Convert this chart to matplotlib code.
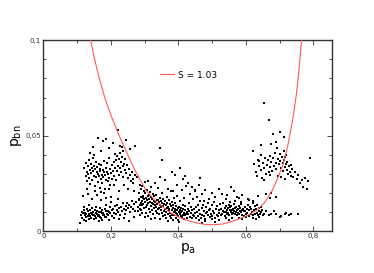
#!/usr/bin/env python3
# Scatter of p_bn against p_a with the S = 1.03 boundary curve.
import matplotlib as mpl
mpl.use('Agg')
import matplotlib.pyplot as plt
from matplotlib.ticker import FixedLocator, FixedFormatter

# upper-left cloud
cloud_a = [
    (0.121, 0.0334), (0.125, 0.0287), (0.127, 0.0356), (0.129, 0.0312), (0.130, 0.0263), (0.132, 0.0341),
    (0.133, 0.0298), (0.135, 0.0372), (0.136, 0.0279), (0.137, 0.0321), (0.139, 0.0248), (0.141, 0.0353),
    (0.142, 0.0306), (0.144, 0.0331), (0.145, 0.0268), (0.147, 0.0384), (0.148, 0.0315), (0.149, 0.0289),
    (0.151, 0.0344), (0.152, 0.0236), (0.154, 0.0327), (0.155, 0.0362), (0.157, 0.0283), (0.158, 0.0309),
    (0.160, 0.0338), (0.161, 0.0257), (0.162, 0.0302), (0.164, 0.0351), (0.165, 0.0291), (0.167, 0.0324),
    (0.168, 0.0228), (0.169, 0.0317), (0.171, 0.0274), (0.172, 0.0346), (0.174, 0.0296), (0.175, 0.0253),
    (0.177, 0.0323), (0.178, 0.0285), (0.179, 0.0367), (0.181, 0.0311), (0.183, 0.0219), (0.184, 0.0293),
    (0.186, 0.0334), (0.187, 0.0271), (0.189, 0.0313), (0.190, 0.0358), (0.192, 0.0262), (0.193, 0.0301),
    (0.195, 0.0386), (0.196, 0.0281), (0.198, 0.0326), (0.199, 0.0243), (0.201, 0.0307), (0.203, 0.0349),
    (0.204, 0.0276), (0.206, 0.0318), (0.208, 0.0364), (0.209, 0.0291), (0.211, 0.0405), (0.213, 0.0332),
    (0.214, 0.0268), (0.216, 0.0371), (0.218, 0.0315), (0.219, 0.0392), (0.221, 0.0344), (0.223, 0.0297),
    (0.224, 0.0378), (0.226, 0.0329), (0.228, 0.0412), (0.229, 0.0361), (0.231, 0.0308), (0.233, 0.0387),
    (0.235, 0.0342), (0.237, 0.0286), (0.239, 0.0354), (0.241, 0.0319), (0.243, 0.0376), (0.246, 0.0305),
    (0.248, 0.0347), (0.251, 0.0278), (0.253, 0.0328), (0.256, 0.0296), (0.259, 0.0261), (0.263, 0.0309),
    (0.267, 0.0272), (0.271, 0.0293),
    (0.147, 0.0443), (0.163, 0.0488), (0.171, 0.0418), (0.178, 0.0472), (0.186, 0.0481), (0.196, 0.0437),
    (0.205, 0.0462), (0.222, 0.0531), (0.228, 0.0447), (0.236, 0.0423), (0.245, 0.0478), (0.258, 0.0432),
    (0.273, 0.0448), (0.232, 0.0441), (0.150, 0.0402), (0.139, 0.0409),
    (0.128, 0.0221), (0.133, 0.0197), (0.152, 0.0213), (0.160, 0.0189), (0.172, 0.0208), (0.181, 0.0202),
    (0.195, 0.0223), (0.210, 0.0241), (0.118, 0.0183), (0.145, 0.0168), (0.170, 0.0162), (0.185, 0.0174),
    (0.200, 0.0181), (0.223, 0.0213), (0.238, 0.0244), (0.250, 0.0219), (0.265, 0.0253), (0.270, 0.0211),
    (0.278, 0.0284), (0.285, 0.0242),
]

# lower-left band
cloud_b = [
    (0.108, 0.0041), (0.112, 0.0083), (0.114, 0.0102), (0.116, 0.0069), (0.118, 0.0094), (0.120, 0.0113),
    (0.121, 0.0061), (0.123, 0.0087), (0.124, 0.0098), (0.126, 0.0074), (0.127, 0.0091), (0.129, 0.0118),
    (0.131, 0.0079), (0.132, 0.0105), (0.134, 0.0064), (0.135, 0.0089), (0.137, 0.0109), (0.138, 0.0082),
    (0.140, 0.0097), (0.141, 0.0071), (0.143, 0.0093), (0.145, 0.0121), (0.146, 0.0084), (0.148, 0.0101),
    (0.149, 0.0067), (0.151, 0.0088), (0.153, 0.0114), (0.154, 0.0078), (0.156, 0.0096), (0.157, 0.0072),
    (0.159, 0.0092), (0.160, 0.0107), (0.162, 0.0081), (0.164, 0.0099), (0.165, 0.0086), (0.167, 0.0124),
    (0.168, 0.0077), (0.170, 0.0103), (0.172, 0.0068), (0.173, 0.0095), (0.175, 0.0111), (0.177, 0.0083),
    (0.178, 0.0098), (0.180, 0.0087), (0.182, 0.0119), (0.184, 0.0076), (0.185, 0.0104), (0.187, 0.0073),
    (0.189, 0.0092), (0.191, 0.0108), (0.193, 0.0085), (0.195, 0.0101), (0.197, 0.0127), (0.199, 0.0094),
    (0.202, 0.0112), (0.204, 0.0079), (0.207, 0.0118), (0.209, 0.0097), (0.212, 0.0131), (0.214, 0.0089),
    (0.217, 0.0109), (0.219, 0.0138), (0.222, 0.0102), (0.225, 0.0123), (0.227, 0.0088), (0.230, 0.0129),
    (0.233, 0.0107), (0.235, 0.0146), (0.238, 0.0118), (0.241, 0.0093), (0.244, 0.0134), (0.246, 0.0112),
    (0.249, 0.0148), (0.252, 0.0121), (0.255, 0.0137), (0.258, 0.0099), (0.261, 0.0128), (0.264, 0.0157),
    (0.267, 0.0117), (0.270, 0.0141), (0.273, 0.0108), (0.276, 0.0152), (0.279, 0.0126), (0.282, 0.0168),
    (0.285, 0.0119), (0.288, 0.0147), (0.291, 0.0138), (0.294, 0.0176),
    (0.120, 0.0128), (0.135, 0.0136), (0.155, 0.0129), (0.175, 0.0061), (0.195, 0.0058), (0.210, 0.0072),
    (0.225, 0.0063), (0.240, 0.0069), (0.255, 0.0053), (0.270, 0.0074), (0.125, 0.0054), (0.165, 0.0056),
    (0.185, 0.0139), (0.200, 0.0152), (0.220, 0.0168),
]

# dense middle band, p_a 0.28 - 0.45
cloud_mid = [
    (0.280, 0.0104), (0.282, 0.0163), (0.283, 0.0198), (0.285, 0.0086), (0.286, 0.0137), (0.288, 0.0179),
    (0.289, 0.0224), (0.290, 0.0113), (0.291, 0.0158), (0.292, 0.0236), (0.293, 0.0094), (0.295, 0.0142),
    (0.296, 0.0187), (0.297, 0.0213), (0.298, 0.0121), (0.299, 0.0169), (0.300, 0.0073), (0.301, 0.0151),
    (0.302, 0.0203), (0.303, 0.0128), (0.304, 0.0174), (0.305, 0.0097), (0.306, 0.0162), (0.307, 0.0218),
    (0.308, 0.0139), (0.309, 0.0183), (0.310, 0.0082), (0.311, 0.0147), (0.312, 0.0192), (0.313, 0.0119),
    (0.314, 0.0171), (0.315, 0.0207), (0.316, 0.0103), (0.317, 0.0156), (0.318, 0.0134), (0.319, 0.0178),
    (0.320, 0.0064), (0.321, 0.0149), (0.322, 0.0112), (0.323, 0.0168), (0.324, 0.0141), (0.325, 0.0196),
    (0.326, 0.0091), (0.327, 0.0159), (0.328, 0.0123), (0.329, 0.0184), (0.330, 0.0137), (0.331, 0.0071),
    (0.332, 0.0153), (0.333, 0.0108), (0.334, 0.0188), (0.335, 0.0129), (0.336, 0.0162), (0.337, 0.0098),
    (0.338, 0.0143), (0.339, 0.0227), (0.340, 0.0117), (0.341, 0.0166), (0.342, 0.0089), (0.343, 0.0152),
    (0.344, 0.0121), (0.345, 0.0177), (0.346, 0.0063), (0.347, 0.0138), (0.348, 0.0109), (0.349, 0.0161),
    (0.350, 0.0127), (0.351, 0.0201), (0.352, 0.0096), (0.353, 0.0148), (0.354, 0.0078), (0.355, 0.0131),
    (0.356, 0.0169), (0.357, 0.0106), (0.358, 0.0144), (0.359, 0.0087), (0.360, 0.0157), (0.361, 0.0118),
    (0.362, 0.0069), (0.363, 0.0136), (0.364, 0.0102), (0.365, 0.0181), (0.366, 0.0124), (0.367, 0.0149),
    (0.368, 0.0093), (0.369, 0.0128), (0.370, 0.0052), (0.371, 0.0111), (0.372, 0.0163), (0.373, 0.0119),
    (0.374, 0.0081), (0.375, 0.0142), (0.376, 0.0097), (0.377, 0.0209), (0.378, 0.0133), (0.379, 0.0072),
    (0.380, 0.0114), (0.381, 0.0153), (0.382, 0.0088), (0.383, 0.0122), (0.384, 0.0061), (0.385, 0.0139),
    (0.386, 0.0101), (0.387, 0.0172), (0.388, 0.0084), (0.389, 0.0117), (0.390, 0.0108), (0.391, 0.0148),
    (0.392, 0.0068), (0.393, 0.0098), (0.394, 0.0132), (0.395, 0.0091), (0.396, 0.0187), (0.397, 0.0113),
    (0.398, 0.0057), (0.399, 0.0124), (0.400, 0.0079), (0.401, 0.0103), (0.402, 0.0049), (0.403, 0.0129),
    (0.404, 0.0093), (0.405, 0.0112), (0.406, 0.0158), (0.407, 0.0082), (0.408, 0.0121), (0.409, 0.0099),
    (0.410, 0.0218), (0.411, 0.0074), (0.412, 0.0107), (0.413, 0.0138), (0.414, 0.0087), (0.415, 0.0119),
    (0.416, 0.0062), (0.417, 0.0096), (0.418, 0.0176), (0.419, 0.0083), (0.420, 0.0109), (0.421, 0.0131),
    (0.422, 0.0092), (0.424, 0.0238), (0.425, 0.0101), (0.426, 0.0068), (0.428, 0.0118), (0.429, 0.0089),
    (0.431, 0.0147), (0.432, 0.0106), (0.434, 0.0077), (0.435, 0.0196), (0.437, 0.0098), (0.438, 0.0127),
    (0.440, 0.0071), (0.441, 0.0112), (0.443, 0.0168), (0.444, 0.0086), (0.446, 0.0119), (0.447, 0.0079),
    (0.449, 0.0216), (0.450, 0.0097),
    (0.310, 0.0262), (0.330, 0.0251), (0.345, 0.0283), (0.360, 0.0268), (0.380, 0.0312), (0.390, 0.0297),
    (0.395, 0.0241), (0.405, 0.0334), (0.415, 0.0273), (0.420, 0.0288), (0.430, 0.0254), (0.440, 0.0232),
    (0.450, 0.0209), (0.465, 0.0281), (0.346, 0.0438), (0.351, 0.0371), (0.370, 0.0224), (0.385, 0.0213),
    (0.300, 0.0259), (0.320, 0.0234), (0.470, 0.0193), (0.460, 0.0242), (0.480, 0.0214), (0.500, 0.0203),
    (0.510, 0.0178), (0.520, 0.0221), (0.530, 0.0197), (0.545, 0.0188), (0.555, 0.0232), (0.565, 0.0209),
    (0.580, 0.0172), (0.590, 0.0191), (0.605, 0.0168), (0.620, 0.0158), (0.635, 0.0183), (0.490, 0.0169),
    (0.475, 0.0161), (0.455, 0.0179),
]

# band p_a 0.45 - 0.76
cloud_low = [
    (0.451, 0.0128), (0.453, 0.0071), (0.455, 0.0103), (0.457, 0.0139), (0.459, 0.0082), (0.461, 0.0114),
    (0.463, 0.0092), (0.465, 0.0158), (0.467, 0.0068), (0.469, 0.0121), (0.471, 0.0087), (0.473, 0.0136),
    (0.475, 0.0079), (0.477, 0.0108), (0.479, 0.0066), (0.481, 0.0127), (0.483, 0.0094), (0.485, 0.0101),
    (0.487, 0.0148), (0.489, 0.0083), (0.491, 0.0112), (0.493, 0.0074), (0.495, 0.0118), (0.497, 0.0089),
    (0.499, 0.0137), (0.501, 0.0081), (0.503, 0.0106), (0.505, 0.0097), (0.507, 0.0153), (0.509, 0.0072),
    (0.511, 0.0116), (0.513, 0.0088), (0.515, 0.0131), (0.517, 0.0078), (0.519, 0.0109), (0.521, 0.0096),
    (0.523, 0.0142), (0.525, 0.0084), (0.527, 0.0119), (0.529, 0.0091), (0.531, 0.0107), (0.533, 0.0149),
    (0.535, 0.0099), (0.537, 0.0081), (0.539, 0.0124), (0.541, 0.0102), (0.542, 0.0133), (0.544, 0.0093),
    (0.545, 0.0113), (0.547, 0.0122), (0.548, 0.0097), (0.550, 0.0138), (0.551, 0.0087), (0.553, 0.0109),
    (0.554, 0.0126), (0.556, 0.0101), (0.557, 0.0131), (0.559, 0.0091), (0.560, 0.0114), (0.562, 0.0119),
    (0.563, 0.0098), (0.565, 0.0143), (0.566, 0.0106), (0.568, 0.0089), (0.569, 0.0121), (0.571, 0.0103),
    (0.572, 0.0128), (0.574, 0.0111), (0.575, 0.0083), (0.577, 0.0117), (0.578, 0.0096), (0.580, 0.0134),
    (0.581, 0.0092), (0.583, 0.0108), (0.584, 0.0123), (0.586, 0.0099), (0.587, 0.0141), (0.589, 0.0088),
    (0.590, 0.0112), (0.592, 0.0119), (0.593, 0.0082), (0.595, 0.0104), (0.597, 0.0129), (0.598, 0.0107),
    (0.600, 0.0091), (0.602, 0.0118), (0.604, 0.0098), (0.606, 0.0137), (0.608, 0.0079), (0.610, 0.0113),
    (0.612, 0.0126), (0.614, 0.0089), (0.616, 0.0117), (0.618, 0.0102), (0.620, 0.0148), (0.622, 0.0083),
    (0.624, 0.0109), (0.626, 0.0132), (0.628, 0.0093), (0.630, 0.0116), (0.632, 0.0098), (0.634, 0.0139),
    (0.636, 0.0084), (0.638, 0.0107), (0.640, 0.0122), (0.642, 0.0091), (0.644, 0.0128), (0.646, 0.0101),
    (0.648, 0.0112), (0.650, 0.0086),
    (0.460, 0.0058), (0.480, 0.0052), (0.500, 0.0063), (0.520, 0.0061), (0.540, 0.0068), (0.560, 0.0072),
    (0.580, 0.0069), (0.600, 0.0074), (0.620, 0.0071), (0.640, 0.0076), (0.470, 0.0043), (0.510, 0.0049),
    (0.550, 0.0057), (0.590, 0.0062), (0.630, 0.0064), (0.552, 0.0152), (0.568, 0.0161), (0.585, 0.0153),
    (0.610, 0.0164), (0.540, 0.0171), (0.575, 0.0178),
    (0.655, 0.0092), (0.660, 0.0104), (0.668, 0.0083), (0.675, 0.0091), (0.682, 0.0108), (0.690, 0.0089),
    (0.700, 0.0073), (0.705, 0.0081), (0.715, 0.0093), (0.720, 0.0097), (0.728, 0.0088), (0.735, 0.0092),
    (0.755, 0.0091), (0.672, 0.0174), (0.690, 0.0182), (0.660, 0.0193), (0.675, 0.0201),
]

# right-hand cloud
cloud_r = [
    (0.620, 0.0421), (0.625, 0.0352), (0.630, 0.0308), (0.632, 0.0287), (0.638, 0.0341), (0.640, 0.0368),
    (0.645, 0.0322), (0.648, 0.0279), (0.650, 0.0357), (0.655, 0.0331), (0.658, 0.0383), (0.660, 0.0298),
    (0.662, 0.0347), (0.665, 0.0372), (0.668, 0.0313), (0.670, 0.0338), (0.672, 0.0396), (0.675, 0.0362),
    (0.678, 0.0318), (0.680, 0.0384), (0.683, 0.0343), (0.685, 0.0412), (0.688, 0.0359), (0.690, 0.0324),
    (0.692, 0.0437), (0.695, 0.0378), (0.697, 0.0351), (0.700, 0.0403), (0.702, 0.0369), (0.705, 0.0332),
    (0.707, 0.0391), (0.709, 0.0358), (0.711, 0.0314), (0.713, 0.0373), (0.715, 0.0339), (0.717, 0.0388),
    (0.719, 0.0352), (0.721, 0.0321), (0.723, 0.0364), (0.725, 0.0302), (0.728, 0.0343), (0.730, 0.0312),
    (0.733, 0.0349), (0.735, 0.0291), (0.738, 0.0328), (0.740, 0.0283), (0.745, 0.0311), (0.750, 0.0272),
    (0.755, 0.0294), (0.760, 0.0253), (0.765, 0.0268), (0.770, 0.0232), (0.775, 0.0281), (0.780, 0.0221),
    (0.785, 0.0262), (0.790, 0.0384), (0.695, 0.0291), (0.705, 0.0283), (0.715, 0.0272), (0.712, 0.0418),
    (0.720, 0.0402), (0.670, 0.0293), (0.645, 0.0398), (0.655, 0.0268), (0.635, 0.0371),
    (0.653, 0.0672), (0.668, 0.0582), (0.681, 0.0511), (0.700, 0.0521), (0.713, 0.0493), (0.690, 0.0468),
    (0.675, 0.0458), (0.645, 0.0451),
]

# S = 1.03 curve
curve_pa = [0.140, 0.152, 0.166, 0.182, 0.202, 0.225, 0.250, 0.277, 0.306, 0.335, 0.370, 0.400, 0.430,
            0.460, 0.480, 0.500, 0.530, 0.560, 0.590, 0.610, 0.632, 0.655, 0.677, 0.695, 0.710, 0.722,
            0.732, 0.741, 0.749, 0.755, 0.760, 0.765]
curve_pbn = [0.100, 0.090, 0.080, 0.070, 0.060, 0.050, 0.040, 0.030, 0.021, 0.0155, 0.0105, 0.0075, 0.0055,
             0.0042, 0.0036, 0.0034, 0.0038, 0.0052, 0.0072, 0.0088, 0.0110, 0.015, 0.021, 0.028, 0.035,
             0.043, 0.052, 0.061, 0.071, 0.080, 0.090, 0.100]

x_ticks = [0, 0.2, 0.4, 0.6, 0.8]
x_ticklabels = ['0', '0,2', '0,4', '0,6', '0,8']
y_ticks = [0, 0.05, 0.1]
y_ticklabels = ['0', '0,05', '0,1']

plt.rcParams['font.family'] = ['DejaVu Sans']

fig = plt.figure(figsize=(3.74, 2.73), dpi=100)
ax = fig.add_axes([0.1158, 0.1527, 0.7727, 0.6997])

pts = cloud_a + cloud_b + cloud_mid + cloud_low + cloud_r
ax.scatter([p[0] for p in pts], [p[1] for p in pts], s=1.0, marker='s',
           c='black', linewidths=0, zorder=2)

line, = ax.plot(curve_pa, curve_pbn, color='#ff5a5a', lw=0.8, zorder=3, label='S = 1.03')
ax.legend(handles=[line], loc='center left', bbox_to_anchor=(0.405, 0.818), frameon=False,
          fontsize=6.5, handlelength=1.5, handletextpad=0.5, borderaxespad=0, borderpad=0)

ax.set_xlim(0, 0.856)
ax.set_ylim(0, 0.1)

ax.xaxis.set_major_locator(FixedLocator(x_ticks))
ax.xaxis.set_major_formatter(FixedFormatter(x_ticklabels))
ax.xaxis.set_minor_locator(FixedLocator([0.1, 0.3, 0.5, 0.7]))
ax.yaxis.set_major_locator(FixedLocator(y_ticks))
ax.yaxis.set_major_formatter(FixedFormatter(y_ticklabels))
ax.yaxis.set_minor_locator(FixedLocator([0.01, 0.02, 0.03, 0.04, 0.06, 0.07, 0.08, 0.09]))

ax.tick_params(which='both', direction='in', top=True, right=True, width=0.6,
               labelsize=5, colors='#333333', pad=1.5)
ax.tick_params(which='major', length=3.5)
ax.tick_params(which='minor', length=2.5)

for sp in ax.spines.values():
    sp.set_linewidth(1.0)
    sp.set_color('#333333')

ax.set_xlabel(r'$\mathregular{p_a}$', fontsize=10, labelpad=1)
ax.set_ylabel(r'$\mathregular{p_{bn}}$', fontsize=10, labelpad=1)

fig.savefig('out.png', dpi=100)
